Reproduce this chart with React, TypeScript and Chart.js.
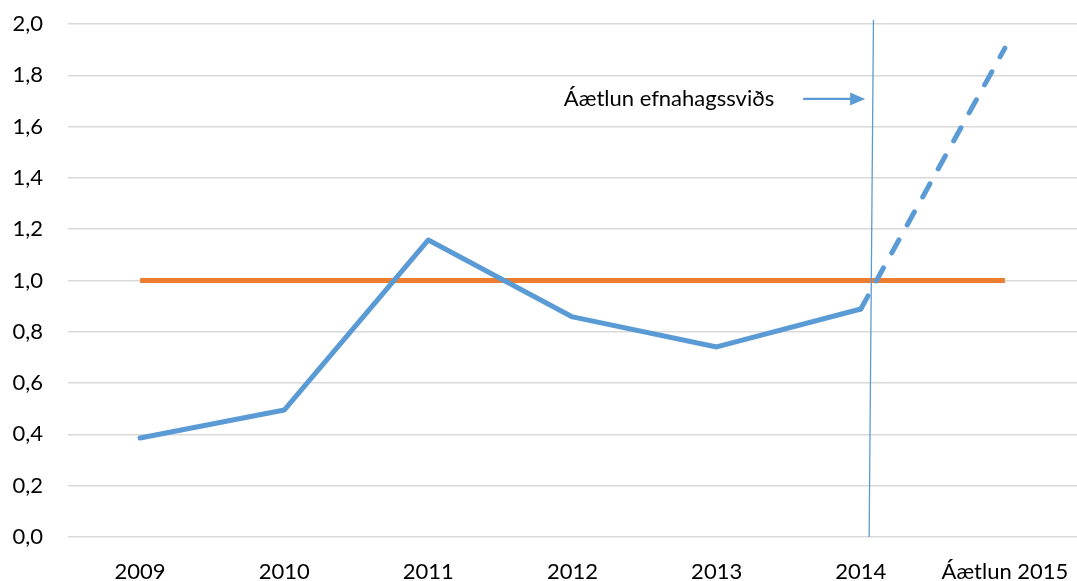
import React, { useEffect, useRef } from "react";
import { Chart, registerables } from "chart.js";

Chart.register(...registerables);

const categories = ["2009", "2010", "2011", "2012", "2013", "2014", "Áætlun 2015"];
const actualValues = [0.386, 0.495, 1.158, 0.858, 0.741, 0.889, 1.906];
const targetValues = [1, 1, 1, 1, 1, 1, 1];
const yTicks = [0, 0.2, 0.4, 0.6, 0.8, 1.0, 1.2, 1.4, 1.6, 1.8, 2.0];

const annotationText = "Áætlun efnahagssviðs";
const markerTopX = 5.088;
const markerBottomX = 5.058;
const markerTopY = 2.016;
const markerBottomY = 0;
const arrowY = 1.708;
const arrowStartX = 4.6;
const arrowEndX = 5.03;
const textStartX = 2.94;

const BLUE = "#5B9BD5";
const ORANGE = "#ED7D31";
const FONT = "Lato, 'Noto Sans', sans-serif";

const annotationPlugin = {
  id: "annot",
  afterDatasetsDraw(chart: any) {
    const { ctx } = chart;
    const xs = chart.scales.x;
    const ys = chart.scales.y;
    ctx.save();
    ctx.strokeStyle = BLUE;
    ctx.lineWidth = 1.3;
    ctx.beginPath();
    ctx.moveTo(xs.getPixelForValue(markerTopX), ys.getPixelForValue(markerTopY));
    ctx.lineTo(xs.getPixelForValue(markerBottomX), ys.getPixelForValue(markerBottomY));
    ctx.stroke();
    const ay = ys.getPixelForValue(arrowY);
    const ax0 = xs.getPixelForValue(arrowStartX);
    const ax1 = xs.getPixelForValue(arrowEndX);
    ctx.lineWidth = 2.4;
    ctx.beginPath();
    ctx.moveTo(ax0, ay);
    ctx.lineTo(ax1 - 12, ay);
    ctx.stroke();
    ctx.fillStyle = BLUE;
    ctx.beginPath();
    ctx.moveTo(ax1, ay);
    ctx.lineTo(ax1 - 15, ay - 6.5);
    ctx.lineTo(ax1 - 15, ay + 6.5);
    ctx.closePath();
    ctx.fill();
    ctx.fillStyle = "#000";
    ctx.font = `22px ${FONT}`;
    ctx.textBaseline = "middle";
    ctx.textAlign = "left";
    ctx.fillText(annotationText, xs.getPixelForValue(textStartX), ay);
    ctx.restore();
  },
};

export default function App() {
  const ref = useRef<HTMLCanvasElement>(null);
  useEffect(() => {
    if (!ref.current) return;
    const chart = new Chart(ref.current, {
      type: "line",
      data: {
        labels: categories,
        datasets: [
          {
            label: "Áætlun",
            data: actualValues,
            borderColor: BLUE,
            backgroundColor: BLUE,
            borderWidth: 5,
            pointRadius: 0,
            borderCapStyle: "round",
            borderJoinStyle: "round",
            tension: 0,
            segment: {
              borderDash: (c: any) => (c.p1DataIndex === 6 ? [15, 17] : undefined),
            },
          },
          {
            label: "Viðmið",
            data: targetValues,
            borderColor: ORANGE,
            backgroundColor: ORANGE,
            borderWidth: 5,
            pointRadius: 0,
            tension: 0,
          },
        ],
      },
      options: {
        animation: false,
        responsive: true,
        maintainAspectRatio: false,
        layout: { padding: { top: 24, left: 0, right: 0, bottom: 0 } },
        plugins: { legend: { display: false }, tooltip: { enabled: false } },
        scales: {
          x: {
            offset: true,
            grid: { display: false, drawTicks: false },
            border: { display: false },
            ticks: {
              color: "#000",
              font: { family: FONT, size: 22 },
              padding: 22,
              maxRotation: 0,
              autoSkip: false,
            },
            afterFit: (s: any) => {
              s.height = 44;
              s.paddingLeft = 0;
              s.paddingRight = 0;
            },
          },
          y: {
            min: 0,
            max: 2,
            afterBuildTicks: (s: any) => {
              s.ticks = yTicks.map((v) => ({ value: v }));
            },
            grid: { color: "#D9D9D9", lineWidth: 1.5, drawTicks: false },
            border: { display: false },
            ticks: {
              color: "#000",
              font: { family: FONT, size: 22 },
              padding: 25,
              callback: (v: any) => Number(v).toFixed(1).replace(".", ","),
            },
            afterFit: (s: any) => {
              s.width = 68;
              s.paddingTop = 0;
              s.paddingBottom = 0;
            },
          },
        },
      },
      plugins: [annotationPlugin],
    });
    return () => chart.destroy();
  }, []);
  return (
    <div style={{ position: "fixed", left: 0, top: 0, width: 1077, height: 581, background: "#fff" }}>
      <canvas ref={ref} />
    </div>
  );
}
